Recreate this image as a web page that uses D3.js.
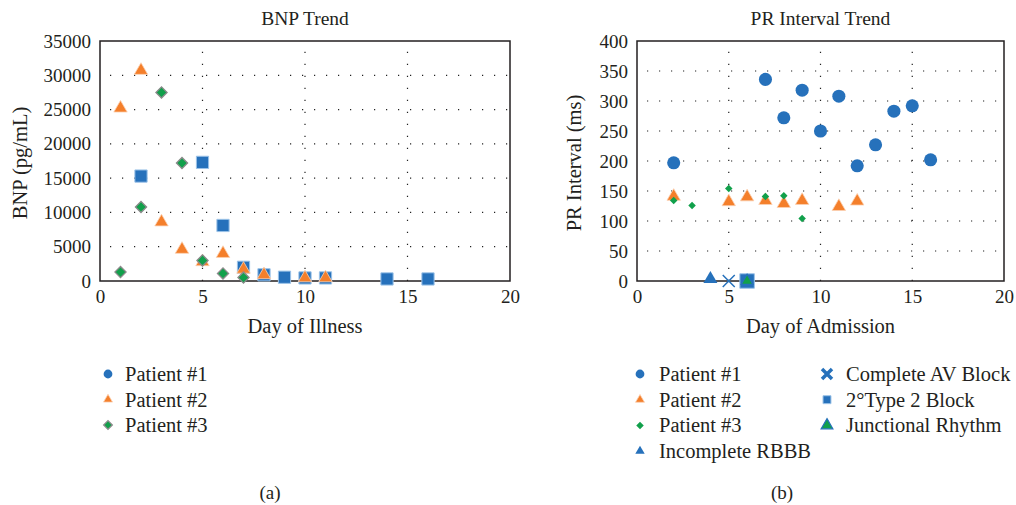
<!DOCTYPE html>
<html><head><meta charset="utf-8">
<script src="https://cdn.jsdelivr.net/npm/d3@7"></script>
<style>body{margin:0;background:#fff}svg{display:block}svg text{font-family:"Liberation Serif","DejaVu Serif",serif !important;fill:#231f20}</style>
</head><body><svg id="c" width="1016" height="505"></svg>
<script>
// ---------- data ----------
const bnpDays1 = [2,5,6,7,8,9,10,11,14,16];
const bnpVals1 = [15300,17300,8100,2000,900,550,450,450,300,300];
const bnpDays2 = [1,2,3,4,5,6,7,8,10,11];
const bnpVals2 = [25200,30700,8600,4600,2800,4000,1700,900,450,450];
const bnpDays3 = [1,2,3,4,5,6,7];
const bnpVals3 = [1300,10800,27500,17200,3000,1100,500];

const prDays1 = [2,7,8,9,10,11,12,13,14,15,16];
const prVals1 = [197,336,272,318,250,308,192,227,283,292,202];
const prDays2 = [2,5,6,7,8,9,11,12];
const prVals2 = [141,132,140,134,129,134,124,133];
const prDays3 = [2,3,5,7,8,9];
const prVals3 = [134,126,154,141,142,104];
const rbbbDays = [4], rbbbVals = [0];
const avDays = [5], avVals = [0];
const type2Days = [6], type2Vals = [0];
const juncDays = [6], juncVals = [0];

const xTicks = [0,5,10,15,20];
const bnpTicks = [0,5000,10000,15000,20000,25000,30000,35000];
const prTicks = [0,50,100,150,200,250,300,350,400];
const legendA = ["Patient #1","Patient #2","Patient #3"];
const legendB1 = ["Patient #1","Patient #2","Patient #3","Incomplete RBBB"];
const legendB2 = ["Complete AV Block","2°Type 2 Block","Junctional Rhythm"];

const BLUE="#2671bb", ORANGE="#f47f2b", GREEN="#11a04b";
const FONT = "Liberation Serif";
const svg = d3.select("#c");

function panel(o){
  const x = d3.scaleLinear().domain([0,20]).range([o.x0,o.x1]);
  const y = d3.scaleLinear().domain([0,o.ymax]).range([281,41]);
  const g = svg.append("g");
  o.yticks.slice(1,-1).forEach(t=>{
    g.append("line").attr("x1",x(0)+10).attr("x2",x(20)).attr("y1",y(t)).attr("y2",y(t))
      .attr("stroke","#222").attr("stroke-width",1.2).attr("stroke-dasharray","1.2,10.8");
  });
  [5,10,15].forEach(t=>{
    g.append("line").attr("x1",x(t)).attr("x2",x(t)).attr("y1",y(0)).attr("y2",y(o.ymax)+5)
      .attr("stroke","#222").attr("stroke-width",1.2).attr("stroke-dasharray","1.2,10.8");
  });
  g.append("rect").attr("x",x(0)).attr("y",y(o.ymax)).attr("width",x(20)-x(0)).attr("height",y(0)-y(o.ymax))
    .attr("fill","none").attr("stroke","#231f20").attr("stroke-width",1.5);
  const ax = g.append("g").attr("transform",`translate(0,${y(0)})`)
    .call(d3.axisBottom(x).tickValues(xTicks).tickSize(0).tickPadding(9));
  ax.attr("font-family",FONT).attr("font-size",19);
  ax.select(".domain").remove();
  ax.selectAll("text").attr("fill","#231f20");
  const ay = g.append("g").attr("transform",`translate(${x(0)},0)`)
    .call(d3.axisLeft(y).tickValues(o.yticks).tickSize(0).tickPadding(9).tickFormat(d3.format("d")));
  ay.attr("font-family",FONT).attr("font-size",19);
  ay.select(".domain").remove();
  ay.selectAll("text").attr("fill","#231f20");
  g.append("text").attr("x",(x(0)+x(20))/2).attr("y",25).attr("text-anchor","middle").attr("font-size",19.5).text(o.title);
  g.append("text").attr("x",(x(0)+x(20))/2).attr("y",333).attr("text-anchor","middle").attr("font-size",20.5).text(o.xlabel);
  g.append("text").attr("transform",`translate(${o.ylx},${(y(0)+y(o.ymax))/2+2}) rotate(-90)`)
    .attr("text-anchor","middle").attr("font-size",20.5).text(o.ylabel);
  return {g,x,y};
}

function mark(g, kind, cx, cy, sc){
  sc = sc||1;
  const t = `translate(${cx},${cy})`;
  if(kind==="square") g.append("path").attr("d",d3.symbol(d3.symbolSquare,150*sc)()).attr("transform",t)
      .attr("fill",BLUE).attr("stroke","#9cc3e8").attr("stroke-width",1);
  else if(kind==="circle") g.append("path").attr("d",d3.symbol(d3.symbolCircle,135*sc)()).attr("transform",t).attr("fill",BLUE);
  else if(kind==="tri") g.append("path").attr("d",d3.symbol(d3.symbolTriangle,78*sc)()).attr("transform",t)
      .attr("fill",ORANGE).attr("stroke","#fbd2b4").attr("stroke-width",0.8);
  else if(kind==="diamond") g.append("path").attr("d",d3.symbol(d3.symbolSquare,62*sc)()).attr("transform",t+" rotate(45)")
      .attr("fill",GREEN).attr("stroke","#8a8a8a").attr("stroke-width",1.3);
  else if(kind==="diamondS") g.append("path").attr("d",d3.symbol(d3.symbolSquare,28*sc)()).attr("transform",t+" rotate(45)")
      .attr("fill",GREEN);
  else if(kind==="btri") g.append("path").attr("d",d3.symbol(d3.symbolTriangle,85*sc)()).attr("transform",t).attr("fill",BLUE);
  else if(kind==="x") { const s=6*Math.sqrt(sc); g.append("path").attr("d",`M${-s},${-s}L${s},${s}M${-s},${s}L${s},${-s}`).attr("transform",t)
      .attr("stroke",BLUE).attr("stroke-width",1.5).attr("fill","none"); }
  else if(kind==="xThick") g.append("path").attr("d",`M-5,-5L5,5M-5,5L5,-5`).attr("transform",t)
      .attr("stroke",BLUE).attr("stroke-width",3.5).attr("fill","none");
  else if(kind==="bsquare") g.append("path").attr("d",d3.symbol(d3.symbolSquare,210*sc)()).attr("transform",t)
      .attr("fill",BLUE).attr("stroke","#9cc3e8").attr("stroke-width",1);
  else if(kind==="gtri") g.append("path").attr("d",d3.symbol(d3.symbolTriangle,60*sc)()).attr("transform",t)
      .attr("fill",GREEN).attr("stroke",BLUE).attr("stroke-width",1.2);
}

// Panel A
const A = panel({x0:100,x1:510,ymax:35000,yticks:bnpTicks,title:"BNP Trend",xlabel:"Day of Illness",ylabel:"BNP (pg/mL)",ylx:27});
bnpDays1.forEach((d,i)=>mark(A.g,"square",A.x(d),A.y(bnpVals1[i])));
bnpDays2.forEach((d,i)=>mark(A.g,"tri",A.x(d),A.y(bnpVals2[i])));
bnpDays3.forEach((d,i)=>mark(A.g,"diamond",A.x(d),A.y(bnpVals3[i])));

// Panel B
const B = panel({x0:637,x1:1004,ymax:400,yticks:prTicks,title:"PR Interval Trend",xlabel:"Day of Admission",ylabel:"PR Interval (ms)",ylx:581});
prDays1.forEach((d,i)=>mark(B.g,"circle",B.x(d),B.y(prVals1[i])));
prDays2.forEach((d,i)=>mark(B.g,"tri",B.x(d),B.y(prVals2[i])));
prDays3.forEach((d,i)=>mark(B.g,"diamondS",B.x(d),B.y(prVals3[i])));
rbbbDays.forEach((d,i)=>mark(B.g,"btri",B.x(d),B.y(rbbbVals[i])-2));
avDays.forEach((d,i)=>mark(B.g,"x",B.x(d),B.y(avVals[i])));
type2Days.forEach((d,i)=>mark(B.g,"bsquare",B.x(d),B.y(type2Vals[i])));
juncDays.forEach((d,i)=>mark(B.g,"gtri",B.x(d),B.y(juncVals[i])));

// Legends
const LA = svg.append("g");
const kindsA = ["circle","tri","diamond"];
legendA.forEach((s,i)=>{
  const yy = 374 + i*25.5;
  mark(LA, kindsA[i], 108, yy, i===2?0.6:0.45);
  LA.append("text").attr("x",125).attr("y",yy+7).attr("font-size",20.5).text(s);
});
const LB = svg.append("g");
const kindsB1 = ["circle","tri","diamondS","btri"];
legendB1.forEach((s,i)=>{
  const yy = 374 + i*25.7;
  mark(LB, kindsB1[i], 640, yy, i===2?1:0.45);
  LB.append("text").attr("x",659).attr("y",yy+7).attr("font-size",20.5).text(s);
});
const kindsB2 = ["xThick","bsquare","gtri"];
legendB2.forEach((s,i)=>{
  const yy = 374 + i*25.7;
  mark(LB, kindsB2[i], 827, yy, i===1?0.3:1);
  LB.append("text").attr("x",846).attr("y",yy+7).attr("font-size",20.5).text(s);
});

svg.append("text").attr("x",270).attr("y",499).attr("text-anchor","middle").attr("font-size",19).text("(a)");
svg.append("text").attr("x",782).attr("y",499).attr("text-anchor","middle").attr("font-size",19).text("(b)");
</script></body></html>
